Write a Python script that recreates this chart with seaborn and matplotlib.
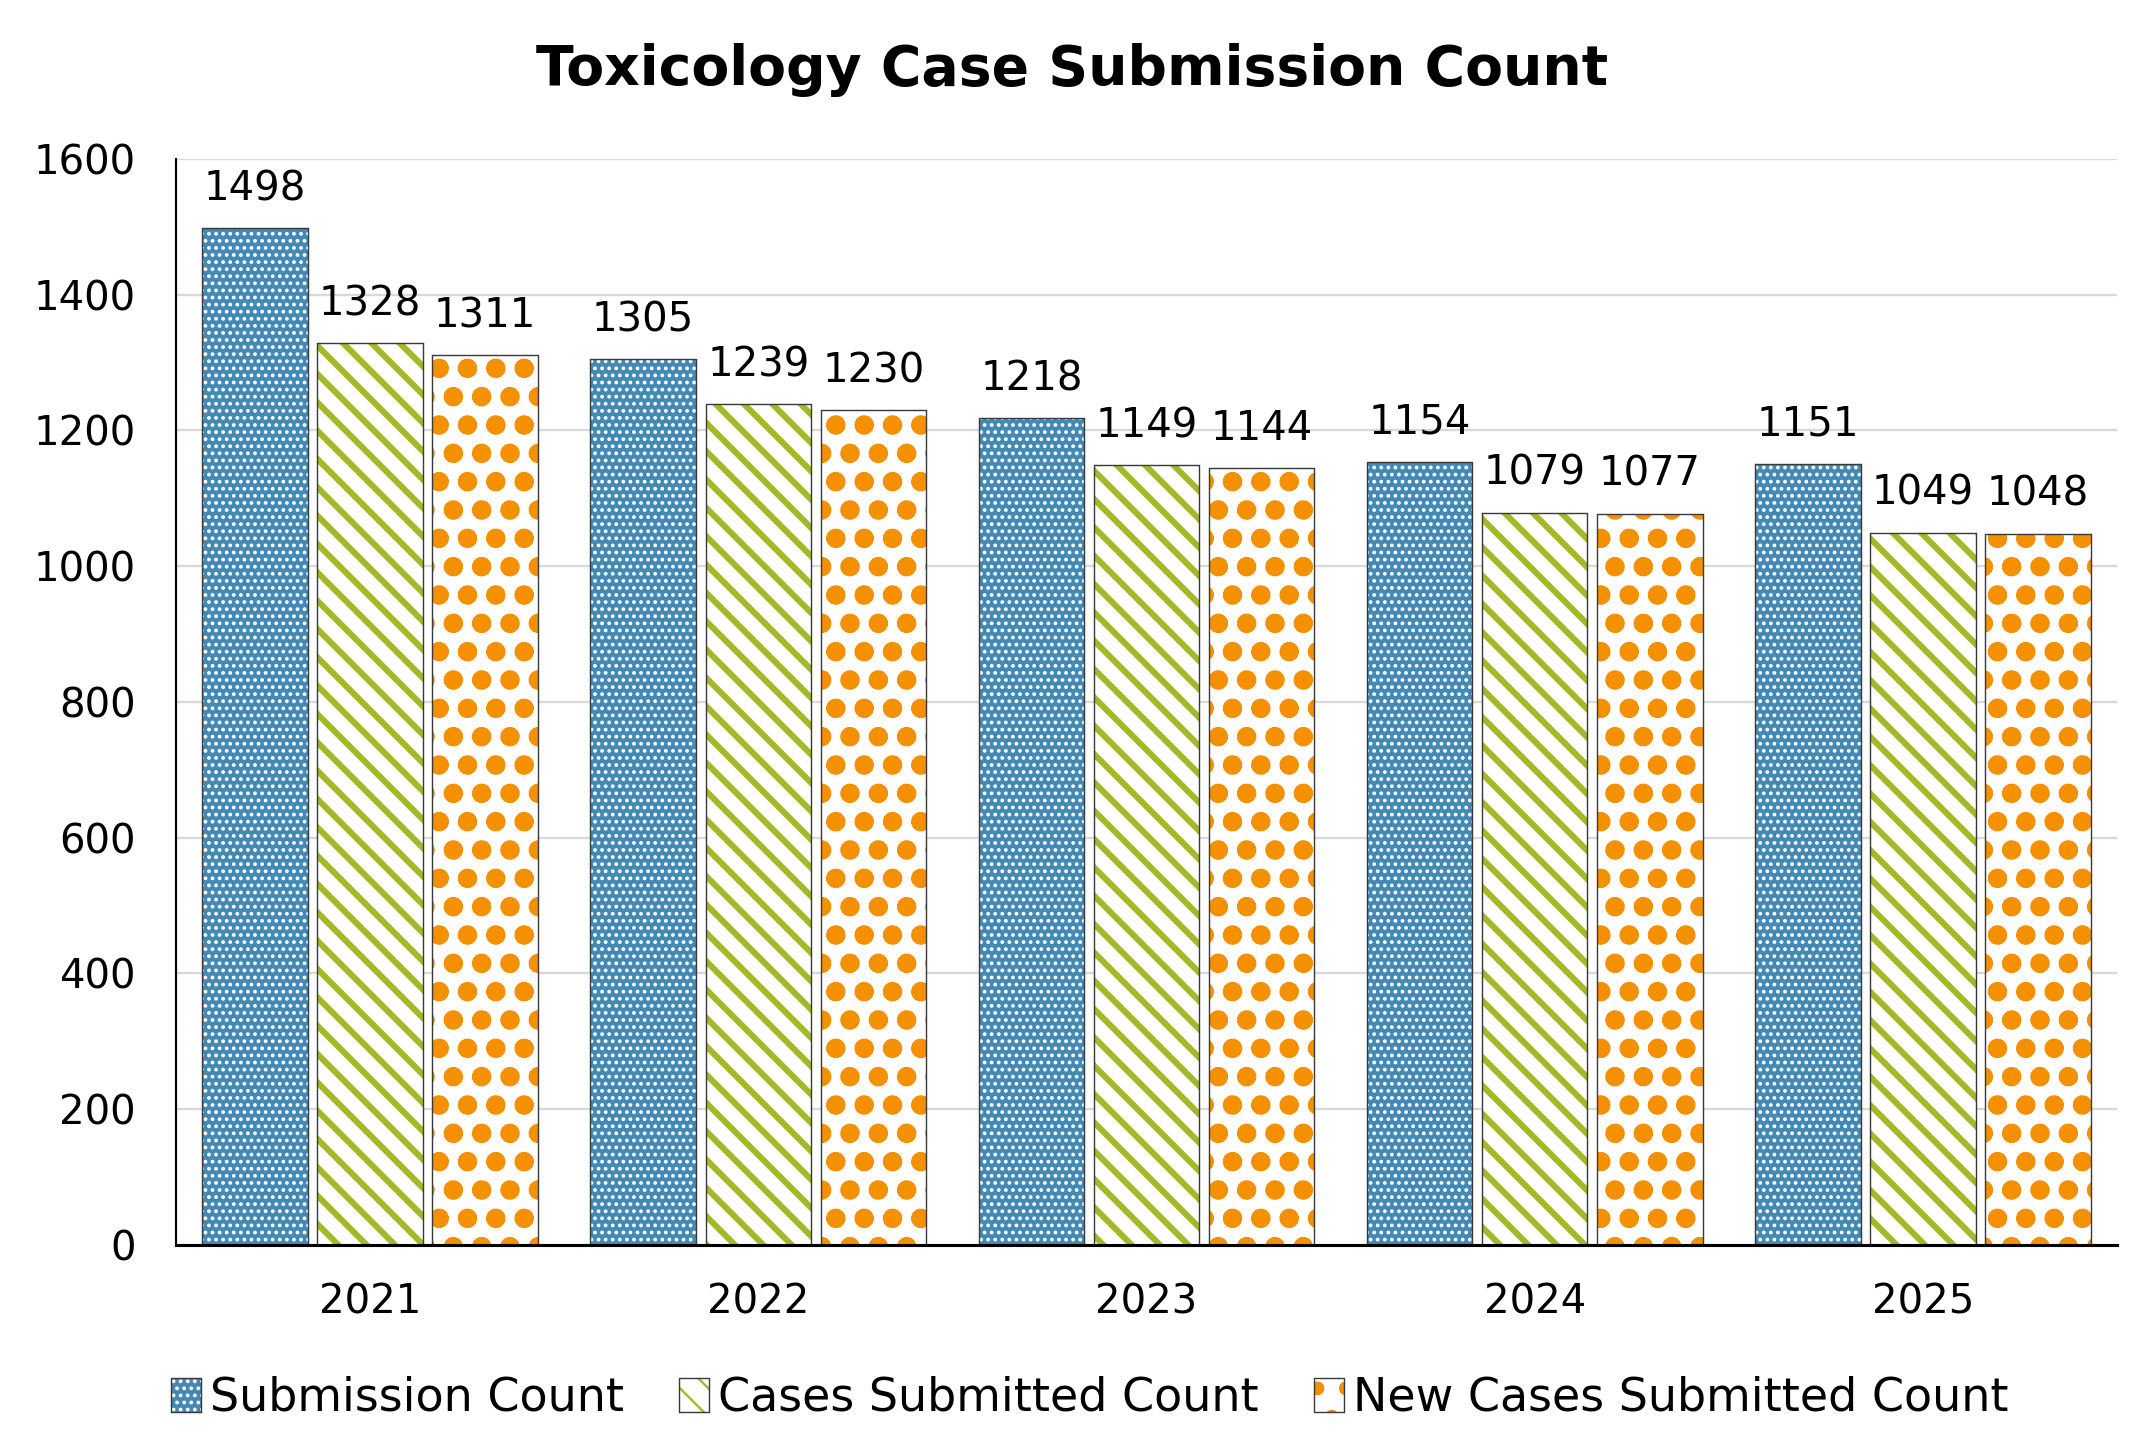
import numpy as np
import pandas as pd
import matplotlib.pyplot as plt
import seaborn as sns
from matplotlib.patches import Patch, Rectangle
from matplotlib.legend_handler import HandlerTuple

# values
years = ["2021", "2022", "2023", "2024", "2025"]
series = ["Submission Count", "Cases Submitted Count", "New Cases Submitted Count"]
submission = [1498, 1305, 1218, 1154, 1151]
cases = [1328, 1239, 1149, 1079, 1049]
new_cases = [1311, 1230, 1144, 1077, 1048]

colors = ["#4389b6", "#a6b828", "#f59100"]
# face colour, hatch, hatch colour, hatch line width
styles = [
    ("#4389b6", "....", "white", 1.0),
    ("white", "\\\\", "#a6b828", 2.6),
    ("white", ".o", "#f59100", 3.4),
]
outline = "#3a3a3a"

df = pd.DataFrame({
    "Year": years * 3,
    "Series": np.repeat(series, len(years)),
    "Count": submission + cases + new_cases,
})

sns.set_theme(style="white")
plt.rcParams["font.family"] = ["DejaVu Sans"]
plt.rcParams["text.color"] = "black"
plt.rcParams["xtick.color"] = "black"
plt.rcParams["ytick.color"] = "black"

DPI = 170
fig = plt.figure(figsize=(2145 / DPI, 1452 / DPI), dpi=DPI)
ax = fig.add_axes([0.082, 0.1426, 0.905, 0.748])

sns.barplot(data=df, x="Year", y="Count", hue="Series", palette=colors,
            width=0.89, gap=0.085, saturation=1, errorbar=None,
            legend=False, ax=ax)

for cont, (face, hatch, hcol, hlw) in zip(ax.containers, styles):
    for bar in cont:
        bar.set_facecolor(face)
        bar.set_hatch(hatch)
        bar.set_edgecolor(hcol)
        bar.set_linewidth(0)
        if hasattr(bar, "set_hatch_linewidth"):
            bar.set_hatch_linewidth(hlw)
        # dark outline on top of the pattern
        ax.add_patch(Rectangle(bar.get_xy(), bar.get_width(), bar.get_height(),
                               fill=False, edgecolor=outline, linewidth=0.6,
                               zorder=bar.get_zorder() + 0.1))
    ax.bar_label(cont, fmt="%d", padding=8, fontsize=17, color="black")

ax.set_xlim(-0.5, 4.5)
ax.set_ylim(0, 1600)
ax.set_yticks(np.arange(0, 1601, 200))
ax.set_xlabel("")
ax.set_ylabel("")
ax.set_axisbelow(True)
ax.yaxis.grid(True, color="#d9d9d9", linewidth=1.0)
ax.xaxis.grid(False)
for s in ["top", "right"]:
    ax.spines[s].set_visible(False)
ax.spines["left"].set_color("black")
ax.spines["left"].set_linewidth(0.9)
ax.spines["bottom"].set_color("black")
ax.spines["bottom"].set_linewidth(1.3)
ax.tick_params(axis="y", length=0, labelsize=17, pad=17, labelcolor="black")
ax.tick_params(axis="x", length=0, labelsize=17, pad=16, labelcolor="black")

fig.suptitle("Toxicology Case Submission Count", x=0.50, y=1 - 70 / 1452,
             va="center", fontsize=23.4, fontweight="bold", color="black")

leg_handles = []
for face, hatch, hcol, hlw in styles:
    p = Patch(facecolor=face, hatch=hatch, edgecolor=hcol, linewidth=0)
    if hasattr(p, "set_hatch_linewidth"):
        p.set_hatch_linewidth(hlw)
    leg_handles.append((p, Patch(fill=False, edgecolor=outline, linewidth=0.6)))

fig.legend(leg_handles, series, loc="center", bbox_to_anchor=(0.508, 0.037),
           ncol=3, frameon=False, fontsize=19.5, handlelength=0.65,
           handleheight=0.75, handletextpad=0.2, columnspacing=1.2,
           handler_map={tuple: HandlerTuple(ndivide=1, pad=0)})

fig.savefig("out.png", dpi=DPI)
